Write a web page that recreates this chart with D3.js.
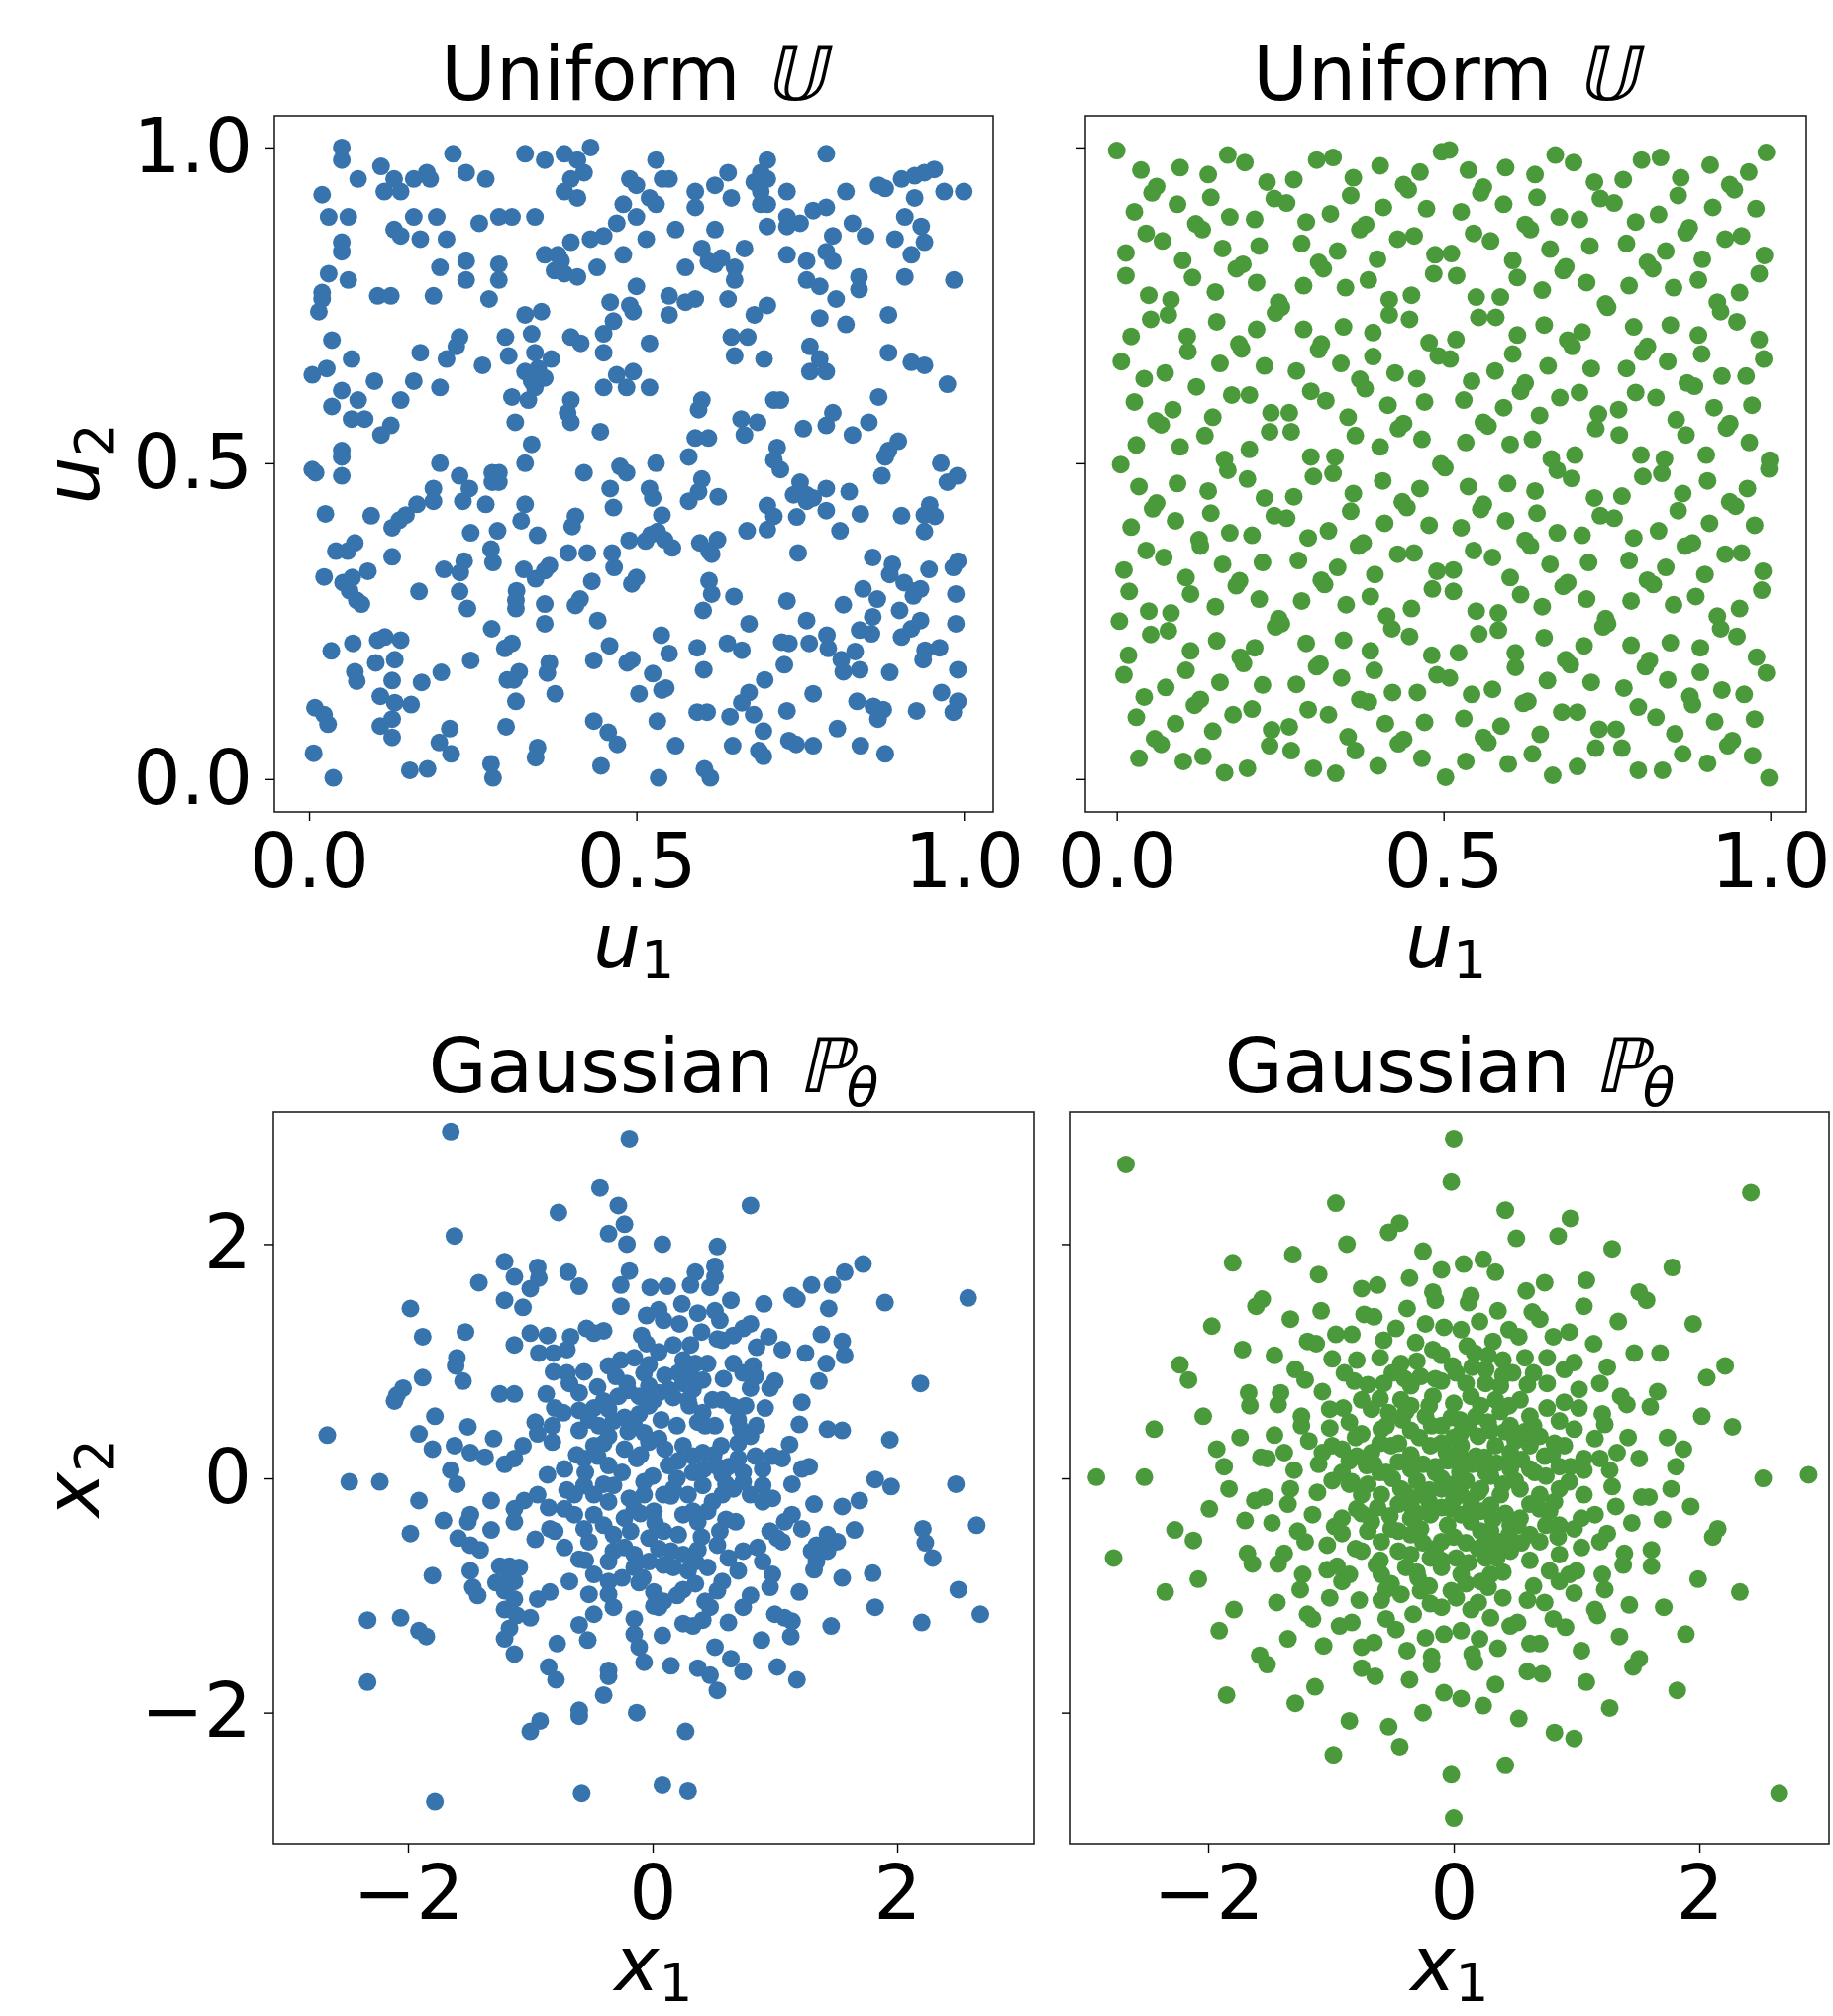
<!DOCTYPE html>
<html><head><meta charset="utf-8">
<script src="https://cdn.jsdelivr.net/npm/d3@7"></script>
<style>
body{margin:0;background:#fff}
svg{display:block}
text{font-family:'DejaVu Sans',sans-serif;fill:#000}
</style></head>
<body><svg id="chart" width="1851" height="2036"></svg>
<script>
// ---------------- data ----------------
const uniformTicks = [0, 0.5, 1.0];
const gaussianTicks = [-2, 0, 2];
const panelTitles = ["Uniform", "Uniform", "Gaussian", "Gaussian"];

// top-left: i.i.d. uniform samples (u1, u2)
const iidUniform = [
[.05,1.0],[.05,.98],[.22,.99],[.33,.99],[.36,.98],[.39,.99],[.41,.98],[.43,1.0],[.42,.96],[.40,.95],[.39,.93],[.41,.92],[.53,.98],[.79,.99],[.70,.98],[.075,.95],[.11,.97],[.13,.95],[.115,.93],[.14,.93],[.16,.95],[.18,.96],[.185,.95],[.24,.96],[.27,.95],[.02,.925],[.49,.95],[.50,.94],[.54,.95],[.55,.95],[.64,.96],[.62,.94],[.69,.96],[.68,.945],[.70,.95],[.69,.93],[.69,.91],[.70,.91],[.73,.93],[.82,.93],[.87,.94],[.88,.935],[.905,.95],[.925,.955],[.94,.96],[.955,.965],[.925,.92],[.97,.93],[1.0,.93],[.59,.93],[.59,.905],[.48,.91],[.52,.92],[.53,.91],[.645,.92],[.03,.89],[.06,.89],[.16,.89],[.195,.89],[.26,.88],[.29,.89],[.31,.89],[.345,.89],[.50,.89],[.47,.88],[.13,.87],[.14,.86],[.17,.855],[.21,.855],[.56,.87],[.62,.87],[.70,.875],[.73,.89],[.73,.875],[.75,.88],[.77,.90],[.79,.905],[.83,.88],[.80,.86],[.85,.86],[.91,.89],[.935,.875],[.895,.855],[.94,.85],[.92,.83],[.43,.855],[.45,.86],[.515,.855],[.05,.85],[.05,.835],[.03,.80],[.06,.79],[.36,.83],[.38,.83],[.40,.85],[.385,.82],[.375,.805],[.39,.80],[.41,.795],[.48,.83],[.44,.81],[.20,.81],[.24,.82],[.24,.79],[.29,.815],[.29,.79],[.60,.84],[.61,.82],[.63,.825],[.62,.815],[.65,.81],[.65,.79],[.665,.84],[.73,.83],[.76,.82],[.76,.79],[.78,.78],[.79,.835],[.80,.82],[.84,.795],[.84,.775],[.91,.795],[.985,.79],[.575,.81],[.02,.77],[.02,.76],[.015,.74],[.105,.765],[.125,.765],[.19,.765],[.275,.76],[.50,.78],[.49,.75],[.495,.74],[.46,.755],[.55,.765],[.575,.755],[.59,.76],[.55,.735],[.64,.76],[.70,.75],[.68,.735],[.805,.76],[.78,.73],[.82,.72],[.885,.735],[.33,.735],[.355,.74],[.34,.705],[.465,.725],[.45,.705],[.035,.695],[.23,.70],[.225,.685],[.21,.665],[.17,.675],[.065,.665],[.30,.70],[.40,.70],[.415,.69],[.45,.675],[.52,.69],[.345,.675],[.305,.67],[.37,.665],[.265,.655],[.645,.70],[.67,.70],[.65,.67],[.695,.665],[.765,.685],[.78,.665],[.765,.645],[.79,.645],[.885,.675],[.92,.66],[.94,.655],[.005,.64],[.027,.65],[.33,.645],[.35,.65],[.36,.635],[.34,.63],[.345,.62],[.495,.645],[.47,.64],[.10,.63],[.05,.615],[.16,.63],[.20,.62],[.45,.62],[.485,.62],[.52,.62],[.975,.625],[.035,.59],[.075,.60],[.14,.60],[.31,.605],[.335,.60],[.40,.60],[.395,.58],[.40,.565],[.60,.60],[.595,.585],[.71,.60],[.72,.60],[.87,.605],[.065,.57],[.085,.57],[.125,.56],[.11,.545],[.315,.565],[.445,.55],[.66,.57],[.685,.565],[.755,.555],[.80,.58],[.79,.56],[.83,.545],[.855,.565],[.59,.54],[.61,.54],[.665,.545],[.34,.53],[.05,.52],[.715,.525],[.90,.535],[.885,.52],
[.005,.49],[.01,.485],[.05,.51],[.05,.48],[.20,.50],[.33,.50],[.42,.485],[.475,.495],[.485,.485],[.53,.50],[.58,.51],[.71,.505],[.72,.49],[.88,.51],[.875,.48],[.965,.50],[.975,.47],[.99,.48],[.23,.48],[.28,.485],[.29,.485],[.28,.47],[.29,.47],[.60,.475],[.75,.47],[.74,.45],[.76,.45],[.76,.44],[.79,.46],[.77,.445],[.745,.415],[.79,.425],[.825,.455],[.245,.46],[.235,.44],[.19,.46],[.19,.44],[.165,.435],[.27,.435],[.33,.435],[.46,.46],[.465,.43],[.52,.46],[.525,.445],[.625,.447],[.58,.44],[.595,.455],[.70,.433],[.71,.416],[.70,.395],[.025,.42],[.095,.417],[.127,.398],[.138,.41],[.148,.418],[.842,.42],[.905,.417],[.948,.434],[.94,.418],[.956,.416],[.94,.392],[.407,.416],[.402,.40],[.324,.409],[.247,.39],[.288,.393],[.349,.386],[.539,.418],[.532,.392],[.522,.387],[.514,.377],[.489,.378],[.543,.379],[.555,.366],[.669,.393],[.811,.393],[.597,.374],[.611,.361],[.624,.379],[.615,.356],[.278,.364],[.281,.343],[.396,.358],[.425,.358],[.463,.358],[.466,.335],[.747,.358],[.861,.351],[.041,.361],[.059,.361],[.07,.374],[.127,.352],[.891,.34],[.887,.324],[.991,.345],[.984,.335],[.947,.332],[.206,.332],[.237,.345],[.231,.327],[.023,.32],[.052,.311],[.066,.319],[.09,.329],[.062,.298],[.073,.283],[.08,.277],[.328,.332],[.346,.317],[.36,.33],[.367,.338],[.432,.313],[.493,.309],[.50,.319],[.317,.298],[.316,.283],[.316,.27],[.168,.297],[.23,.297],[.242,.27],[.36,.277],[.407,.275],[.414,.285],[.611,.314],[.615,.293],[.649,.289],[.73,.282],[.816,.276],[.846,.301],[.868,.285],[.902,.267],[.909,.311],[.927,.298],[.923,.29],[.934,.301],[.988,.293],[.602,.267],[.279,.238],[.36,.246],[.441,.251],[.672,.246],[.76,.251],[.861,.257],[.841,.236],[.859,.23],[.905,.225],[.92,.238],[.934,.251],[.988,.246],[.034,.203],[.067,.215],[.105,.22],[.116,.225],[.14,.22],[.31,.215],[.299,.207],[.538,.228],[.459,.211],[.55,.199],[.593,.208],[.639,.215],[.661,.204],[.722,.217],[.733,.215],[.764,.215],[.791,.228],[.793,.207],[.834,.202],[.941,.204],[.963,.208],[.938,.189],[.102,.184],[.131,.189],[.07,.17],[.073,.155],[.127,.156],[.172,.153],[.202,.169],[.247,.188],[.321,.17],[.303,.157],[.313,.157],[.367,.184],[.364,.168],[.435,.188],[.486,.184],[.493,.189],[.525,.167],[.545,.144],[.539,.141],[.603,.173],[.726,.181],[.813,.189],[.816,.17],[.841,.173],[.887,.169],[.991,.173],[.696,.157],[.672,.137],[.661,.121],[.376,.135],[.504,.135],[.109,.131],[.131,.121],[.156,.118],[.316,.123],[.77,.135],[.966,.137],[.837,.123],[.862,.115],[.877,.11],[.869,.095],[.991,.123],[.984,.106],[.009,.113],[.023,.102],[.029,.087],[.109,.084],[.127,.095],[.127,.066],[.215,.08],[.199,.058],[.217,.04],[.301,.083],[.435,.092],[.457,.074],[.471,.055],[.532,.092],[.593,.106],[.608,.106],[.643,.099],[.679,.102],[.73,.108],[.694,.076],[.807,.08],[.928,.108],[.007,.041],[.037,.002],[.154,.014],[.181,.016],[.278,.024],[.281,.002],[.349,.05],[.346,.034],[.446,.021],[.56,.053],[.647,.053],[.687,.045],[.694,.036],[.733,.061],[.744,.055],[.77,.053],[.842,.053],[.88,.04],[.534,.002],[.604,.016],[.613,.002]
];

// top-right: quasi-random (low-discrepancy) uniform samples (u1, u2)
const qmcUniform = [
[0.0,.995],[.037,.964],[.097,.968],[.14,.957],[.17,.988],[.196,.976],[.23,.945],[.271,.949],[.306,.98],[.331,.984],[.362,.952],[.358,.924],[.403,.971],[.464,.961],[.497,.993],[.509,.996],[.538,.964],[.595,.968],[.64,.957],[.643,.921],[.671,.988],[.699,.976],[.731,.945],[.775,.949],[.803,.98],[.832,.984],[.863,.952],[.859,.924],[.908,.972],[.967,.961],[.994,.992],[.061,.938],[.054,.928],[.144,.921],[.241,.919],[.26,.912],[.439,.941],[.446,.933],[.561,.937],[.557,.928],[.74,.919],[.761,.912],[.938,.941],[.945,.933],[.027,.898],[.093,.91],[.173,.89],[.211,.886],[.29,.882],[.327,.895],[.408,.905],[.474,.903],[.527,.898],[.592,.91],[.677,.89],[.708,.886],[.794,.882],[.829,.894],[.912,.905],[.978,.903],[.121,.879],[.131,.87],[.372,.87],[.381,.878],[.625,.878],[.633,.87],[.876,.873],[.871,.865],[.045,.864],[.07,.852],[.43,.855],[.455,.86],[.546,.864],[.572,.852],[.931,.855],[.956,.86],[.014,.833],[.162,.84],[.218,.844],[.283,.848],[.338,.836],[.487,.83],[.512,.832],[.663,.839],[.724,.844],[.78,.848],[.84,.836],[.991,.829],[.101,.821],[.183,.808],[.193,.815],[.309,.818],[.316,.808],[.399,.823],[.606,.821],[.687,.811],[.683,.805],[.812,.818],[.82,.808],[.896,.823],[.014,.797],[.116,.794],[.214,.786],[.286,.781],[.35,.778],[.385,.79],[.485,.8],[.52,.797],[.613,.794],[.651,.774],[.719,.786],[.784,.781],[.852,.778],[.89,.79],[.983,.8],[.049,.766],[.083,.759],[.151,.771],[.248,.755],[.252,.747],[.243,.738],[.417,.759],[.451,.766],[.55,.763],[.587,.763],[.751,.747],[.748,.752],[.919,.755],[.924,.74],[.953,.77],[.052,.728],[.079,.735],[.153,.724],[.417,.735],[.448,.728],[.554,.731],[.58,.731],[.949,.724],[.022,.701],[.108,.701],[.109,.677],[.214,.712],[.286,.712],[.347,.716],[.392,.707],[.613,.703],[.654,.719],[.712,.708],[.69,.695],[.697,.685],[.791,.716],[.847,.719],[.89,.703],[.983,.696],[.187,.689],[.191,.681],[.313,.689],[.309,.68],[.478,.691],[.519,.696],[.492,.67],[.51,.665],[.812,.685],[.805,.676],[.007,.661],[.158,.658],[.226,.654],[.275,.646],[.343,.658],[.392,.669],[.606,.673],[.66,.654],[.726,.65],[.78,.65],[.843,.661],[.895,.673],[.99,.665],[.042,.634],[.074,.643],[.122,.621],[.372,.633],[.38,.618],[.426,.643],[.459,.634],[.543,.63],[.579,.646],[.625,.627],[.618,.614],[.873,.627],[.884,.622],[.926,.638],[.963,.638],[.027,.597],[.176,.608],[.203,.608],[.297,.614],[.32,.599],[.415,.592],[.471,.597],[.531,.6],[.678,.604],[.708,.612],[.794,.612],[.825,.604],[.086,.585],[.06,.567],[.068,.561],[.147,.573],[.236,.58],[.264,.58],[.354,.573],[.439,.563],[.431,.555],[.561,.565],[.568,.559],[.592,.588],[.647,.576],[.737,.578],[.733,.555],[.768,.585],[.769,.545],[.856,.569],[.871,.545],[.914,.588],[.972,.592],[.938,.563],[.933,.556],[.234,.55],[.267,.55],[.03,.529],[.097,.526],[.135,.544],[.203,.522],[.365,.544],[.403,.526],[.467,.538],[.534,.533],[.602,.53],[.636,.538],[.968,.533],
[.006,.498],[.165,.506],[.17,.489],[.297,.51],[.334,.51],[.301,.479],[.331,.484],[.496,.499],[.502,.493],[.665,.507],[.674,.489],[.696,.476],[.701,.513],[.802,.513],[.838,.507],[.834,.484],[.805,.479],[.902,.513],[.999,.505],[.998,.491],[.034,.463],[.093,.468],[.14,.456],[.2,.475],[.226,.445],[.271,.447],[.362,.452],[.358,.424],[.407,.472],[.464,.46],[.538,.463],[.598,.468],[.64,.456],[.643,.421],[.731,.445],[.773,.448],[.866,.452],[.859,.425],[.904,.472],[.965,.46],[.061,.437],[.055,.428],[.144,.421],[.241,.417],[.26,.413],[.437,.439],[.444,.43],[.561,.435],[.557,.427],[.74,.417],[.761,.413],[.938,.439],[.947,.432],[.022,.399],[.09,.409],[.173,.39],[.207,.386],[.293,.382],[.324,.393],[.41,.405],[.478,.402],[.527,.398],[.595,.409],[.674,.39],[.712,.386],[.791,.382],[.829,.393],[.907,.405],[.976,.402],[.126,.379],[.128,.369],[.37,.369],[.377,.374],[.625,.378],[.633,.369],[.87,.369],[.881,.374],[.045,.362],[.072,.351],[.43,.356],[.455,.358],[.546,.362],[.575,.351],[.931,.356],[.956,.358],[.011,.331],[.162,.34],[.223,.343],[.278,.346],[.338,.335],[.395,.324],[.49,.329],[.515,.331],[.663,.34],[.722,.343],[.784,.346],[.84,.335],[.9,.324],[.989,.329],[.106,.319],[.183,.306],[.188,.314],[.313,.315],[.318,.308],[.602,.319],[.69,.311],[.683,.305],[.812,.315],[.821,.308],[.019,.297],[.113,.293],[.218,.285],[.283,.282],[.351,.276],[.388,.289],[.483,.301],[.515,.297],[.618,.292],[.651,.273],[.719,.285],[.787,.282],[.852,.276],[.886,.289],[.987,.299],[.049,.266],[.083,.263],[.151,.273],[.248,.254],[.252,.246],[.243,.241],[.413,.258],[.421,.238],[.451,.27],[.55,.266],[.584,.263],[.748,.254],[.751,.246],[.744,.241],[.919,.258],[.924,.238],[.953,.27],[.004,.25],[.052,.229],[.079,.235],[.153,.219],[.448,.226],[.554,.23],[.584,.236],[.949,.226],[.018,.196],[.011,.165],[.113,.203],[.106,.172],[.211,.208],[.189,.193],[.194,.183],[.29,.215],[.347,.22],[.388,.203],[.394,.172],[.482,.196],[.523,.2],[.61,.2],[.61,.177],[.654,.224],[.687,.189],[.694,.181],[.715,.211],[.787,.212],[.815,.188],[.809,.178],[.847,.216],[.893,.208],[.893,.169],[.979,.193],[.994,.168],[.306,.178],[.311,.182],[.344,.16],[.49,.165],[.509,.16],[.659,.156],[.726,.153],[.843,.157],[.042,.13],[.075,.145],[.158,.153],[.223,.149],[.275,.15],[.372,.126],[.385,.122],[.422,.137],[.46,.137],[.543,.134],[.575,.142],[.622,.12],[.629,.123],[.776,.144],[.877,.131],[.881,.118],[.926,.141],[.96,.134],[.03,.098],[.09,.088],[.119,.117],[.128,.126],[.178,.102],[.207,.111],[.293,.11],[.324,.102],[.411,.088],[.471,.09],[.531,.096],[.588,.084],[.681,.106],[.705,.106],[.798,.114],[.825,.098],[.915,.091],[.976,.095],[.058,.064],[.068,.055],[.147,.076],[.237,.078],[.234,.053],[.264,.083],[.267,.045],[.354,.067],[.365,.045],[.439,.063],[.431,.056],[.561,.066],[.568,.058],[.648,.071],[.738,.079],[.764,.079],[.733,.049],[.773,.049],[.854,.072],[.866,.04],[.942,.061],[.935,.053],[.973,.037],[.034,.033],[.102,.028],[.132,.036],[.165,.01],[.2,.017],[.301,.017],[.335,.009],[.4,.021],[.467,.033],[.503,.003],[.534,.028],[.599,.024],[.636,.04],[.667,.006],[.705,.02],[.798,.014],[.835,.014],[.904,.025],[.998,.002]
];

// bottom-left: i.i.d. Gaussian samples (x1, x2)
const iidGaussian = [
[-1.65,2.96],[-0.19,2.90],[-0.43,2.48],[-0.28,2.33],[-0.77,2.27],[0.80,2.33],[-1.62,2.07],[-0.23,2.17],[-0.36,2.09],[-0.21,2.00],[0.08,2.00],[0.53,1.98],[1.72,1.83],[-1.21,1.85],[-1.13,1.72],[-0.94,1.80],[-0.93,1.71],[-1.00,1.62],[-1.42,1.67],[-0.69,1.76],[-0.60,1.64],[-0.19,1.77],[-0.26,1.65],[-0.02,1.63],[0.12,1.64],[0.35,1.76],[0.31,1.65],[0.51,1.81],[0.51,1.72],[0.47,1.63],[1.57,1.76],[1.47,1.65],[1.30,1.65],[1.14,1.56],[1.18,1.53],[-1.98,1.45],[-1.21,1.52],[-1.06,1.46],[-0.26,1.47],[0.24,1.49],[0.64,1.52],[0.91,1.49],[1.44,1.45],[1.90,1.50],[2.58,1.54],[-1.88,1.21],[-1.53,1.25],[-0.05,1.39],[0.05,1.44],[0.09,1.35],[0.22,1.32],[0.37,1.41],[0.51,1.43],[0.55,1.35],[0.80,1.32],[0.74,1.28],[-1.00,1.24],[-0.86,1.22],[-0.67,1.21],[-0.54,1.28],[-0.40,1.26],[-0.48,1.24],[-1.13,1.14],[-0.93,1.07],[-0.81,1.07],[-0.09,1.22],[0.17,1.14],[0.31,1.14],[0.05,1.08],[0.57,1.18],[0.66,1.22],[0.53,1.19],[0.95,1.21],[0.85,1.12],[1.06,1.10],[1.25,1.07],[1.38,1.23],[1.55,1.17],[1.57,1.05],[1.42,0.98],[1.36,0.83],[2.19,0.81],[-1.60,1.03],[-1.61,0.96],[-1.55,0.83],[-1.88,0.86],[-2.04,0.77],[-2.09,0.71],[-2.11,0.66],[-1.25,0.72],[-1.13,0.72],[-0.87,0.72],[-0.81,0.91],[-0.70,0.90],[-0.56,0.91],[-0.68,0.81],[-0.60,0.73],[-0.36,0.96],[-0.26,1.01],[-0.15,1.03],[-0.03,0.97],[-0.30,0.87],[-0.21,0.81],[-0.07,0.90],[0.25,1.01],[0.35,0.98],[0.45,0.98],[0.21,0.90],[0.31,0.88],[0.41,0.84],[0.66,0.98],[0.74,0.90],[0.82,0.96],[0.84,0.87],[1.00,0.83],[0.96,0.77],[1.22,0.65],[0.92,0.60],[0.76,0.62],[0.57,0.67],[-0.03,0.79],[0.05,0.73],[0.13,0.76],[0.25,0.81],[0.33,0.76],[-0.11,0.70],[0.01,0.67],[0.17,0.69],[0.29,0.67],[0.49,0.67],[0.80,0.77],[-1.78,0.53],[-1.51,0.44],[-1.91,0.38],[-2.66,0.37],[-1.80,0.25],[-1.62,0.28],[-1.49,0.22],[-1.37,0.18],[-1.30,0.34],[-1.21,0.12],[-1.13,0.17],[-1.06,0.28],[-0.96,0.48],[-0.94,0.38],[-0.82,0.31],[-0.82,0.45],[-0.73,0.56],[-0.60,0.41],[-0.52,0.50],[-0.48,0.60],[-0.40,0.66],[-0.36,0.59],[-0.44,0.45],[-0.36,0.36],[-0.48,0.28],[-0.45,0.19],[-0.32,0.49],[-0.23,0.52],[-0.15,0.45],[-0.11,0.55],[-0.03,0.62],[0.07,0.50],[-0.07,0.39],[0.05,0.34],[-0.03,0.31],[-0.23,0.25],[-0.13,0.17],[0.25,0.28],[0.33,0.19],[0.41,0.22],[0.21,0.15],[0.41,0.56],[0.37,0.48],[0.43,0.45],[0.51,0.45],[0.70,0.50],[0.72,0.42],[0.80,0.36],[0.56,0.28],[0.84,0.19],[0.70,0.17],[0.98,0.19],[1.12,0.29],[1.06,0.17],[1.20,0.46],[1.43,0.42],[1.55,0.41],[1.94,0.33],[1.22,0.08],[1.28,0.10],[0.53,0.10],[0.57,0.03],[-1.65,0.07],[-0.86,0.03],[-0.56,0.17],[-0.36,0.11],[0.13,0.11],[0.33,0.05],[0.74,0.05],[0.90,0.08],[-0.72,0.08],
[-2.48,-0.03],[-2.23,-0.03],[-1.60,-0.05],[1.82,-0.01],[1.95,-0.07],[2.48,-0.05],[1.14,-0.05],[-1.91,-0.19],[-1.32,-0.19],[-1.98,-0.47],[-1.71,-0.36],[-1.49,-0.31],[-1.51,-0.37],[-1.59,-0.51],[-1.49,-0.57],[-1.41,-0.61],[-1.32,-0.44],[-1.13,-0.26],[-1.13,-0.37],[-1.05,-0.19],[-0.94,-0.14],[-0.96,-0.52],[-0.80,-0.45],[-0.72,-0.59],[-0.64,-0.14],[-0.64,-0.31],[-0.56,-0.43],[-0.48,-0.31],[-0.48,-0.14],[-0.36,-0.20],[-0.40,-0.40],[-0.32,-0.48],[-0.23,-0.34],[-0.15,-0.26],[-0.07,-0.14],[0.01,-0.28],[-0.03,-0.51],[0.09,-0.14],[0.17,-0.09],[0.29,-0.14],[0.25,-0.31],[0.33,-0.28],[0.57,-0.14],[0.66,-0.09],[0.80,-0.14],[0.90,-0.20],[0.98,-0.17],[0.68,-0.37],[1.08,-0.37],[1.22,-0.43],[1.32,-0.22],[1.55,-0.24],[1.69,-0.19],[1.65,-0.44],[1.51,-0.54],[1.43,-0.62],[1.30,-0.62],[1.34,-0.71],[1.32,-0.78],[1.55,-0.85],[1.80,-0.81],[1.82,-1.10],[1.46,-1.26],[2.21,-0.43],[2.23,-0.55],[2.29,-0.68],[2.65,-0.40],[2.50,-0.95],[2.68,-1.16],[2.20,-1.23],[0.37,-0.61],[0.35,-0.71],[0.45,-0.76],[0.25,-0.65],[0.29,-0.79],[0.25,-0.95],[0.53,-0.57],[0.62,-0.68],[0.70,-0.79],[0.74,-0.62],[0.86,-0.59],[0.90,-0.71],[0.98,-0.82],[0.96,-0.93],[1.06,-0.54],[1.20,-0.97],[0.96,-0.45],[1.02,-0.51],[0.17,-0.76],[0.09,-0.74],[-0.15,-0.76],[-0.11,-0.89],[0.01,-0.97],[0.05,-1.10],[0.09,-1.05],[0.01,-1.09],[-0.15,-0.65],[-0.23,-0.59],[-0.36,-0.71],[-0.36,-0.88],[-0.32,-1.10],[-0.36,-0.99],[-0.48,-0.82],[-0.52,-0.99],[-0.48,-1.16],[-0.68,-0.88],[-0.84,-0.97],[-0.94,-1.03],[-0.60,-0.69],[-1.25,-0.75],[-1.17,-0.75],[-1.09,-0.76],[-1.17,-0.82],[-1.13,-0.88],[-1.21,-0.96],[-1.13,-1.03],[-1.28,-0.89],[-1.49,-0.79],[-1.47,-0.93],[-1.43,-1.00],[-1.80,-0.83],[-1.21,-1.12],[-1.11,-1.17],[-1.00,-1.19],[-1.17,-1.28],[-1.21,-1.37],[-1.13,-1.50],[-2.33,-1.21],[-2.06,-1.19],[-1.91,-1.30],[-1.85,-1.35],[-2.33,-1.74],[-0.78,-1.41],[-0.53,-1.38],[-0.15,-1.33],[-0.11,-1.44],[-0.07,-1.57],[0.08,-1.34],[0.15,-1.60],[0.37,-1.62],[0.47,-1.68],[0.53,-1.81],[0.51,-1.44],[0.64,-1.54],[0.74,-1.65],[0.89,-1.38],[1.02,-1.61],[1.18,-1.72],[1.14,-1.22],[1.13,-1.35],[1.00,-1.16],[1.08,-1.19],[0.74,-1.10],[0.62,-1.23],[0.25,-1.24],[0.33,-1.26],[0.41,-1.21],[0.47,-1.10],[0.43,-1.05],[0.53,-0.96],[0.57,-0.88],[-0.85,-1.61],[-0.79,-1.72],[-0.36,-1.64],[-0.36,-1.69],[-0.40,-1.85],[-0.60,-1.98],[-0.60,-2.03],[-0.13,-2.00],[-0.92,-2.07],[-1.00,-2.16],[0.27,-2.16],[0.08,-2.62],[0.29,-2.67],[-0.58,-2.69],[-1.78,-2.76],[-0.84,-0.43],[-0.72,-0.26],[-0.56,-0.06],[-0.32,-0.06],[-0.19,-0.17],[-0.07,-0.03],[0.41,-0.06],[0.49,-0.20],[0.74,-0.03],[0.90,-0.06],[-0.52,-0.54],[-0.32,-0.62],[-0.03,-0.71],[0.09,-0.45],[0.21,-0.48],[0.37,-0.37],[0.45,-0.28],[1.34,-0.57],[1.43,-0.48],[1.14,-0.31],
[-0.10,0.20],[0.10,0.25],[-0.25,0.05],[0.00,0.02],[0.20,0.00],[-0.40,-0.05],[0.50,0.20],[0.62,0.10],[-0.62,0.20],[-0.20,0.75],[0.10,0.88],[-0.45,0.78],[0.58,0.85],[-0.80,0.60],[0.65,0.62],[-0.18,-0.45],[0.02,-0.38],[0.15,-0.62],[-0.08,-0.85],[0.35,-0.90],[-0.55,-0.70],[0.60,-0.35],[-0.70,-0.10],[0.70,0.30],[0.20,0.45],[-0.20,0.40],[0.30,0.62],[-0.60,0.58],[0.05,-0.60],[-0.25,-0.85],[0.40,-0.50],[-0.40,0.30],[0.15,-0.15],[-0.10,-0.30],[0.55,-0.45],[-0.85,-0.25],[0.85,0.45],[-0.05,1.15],[0.40,1.25],[-0.70,1.10],[0.20,-1.00],[-0.60,-1.25],[0.80,-1.00],[-0.15,-1.20],[0.60,-0.05],[-0.28,0.70],[0.42,0.08],[-0.55,0.05]
];

// bottom-right: quasi-random Gaussian samples (x1, x2)
const qmcGaussian = [
[-2.67,2.68],[0,2.90],[-0.02,2.53],[2.42,2.44],[-0.96,2.35],[0.42,2.29],[0.95,2.22],[-0.53,2.10],[-0.44,2.18],[-0.87,2.00],[0.51,2.05],[0.85,2.07],[1.29,1.96],[-0.25,1.94],[-1.31,1.91],[-1.80,1.84],[1.78,1.80],[-1.10,1.74],[-0.10,1.78],[0.08,1.83],[0.24,1.87],[0.34,1.76],[-0.36,1.71],[-0.75,1.62],[-0.62,1.65],[-0.17,1.59],[-0.15,1.52],[0.14,1.56],[0.12,1.50],[0.59,1.60],[0.74,1.67],[1.08,1.69],[1.51,1.59],[1.57,1.52],[-1.56,1.53],[-1.61,1.47],[-1.08,1.43],[-0.38,1.45],[0.36,1.43],[1.06,1.47],[-0.73,1.40],[-0.65,1.38],[0.64,1.42],[0.70,1.36],[-1.33,1.36],[1.34,1.34],[1.95,1.32],[-1.97,1.30],[-0.96,1.23],[-0.83,1.23],[-0.47,1.28],[-0.23,1.32],[-0.08,1.29],[0.06,1.27],[0.21,1.34],[0.45,1.27],[0.53,1.21],[0.81,1.21],[0.94,1.25],[-0.57,1.18],[-0.31,1.16],[0.32,1.17],[1.14,1.15],[-1.19,1.17],[-1.12,1.15],[-1.72,1.10],[-1.46,1.05],[1.47,1.07],[1.68,1.07],[-0.99,1.02],[-0.79,1.01],[-0.60,1.03],[-0.43,0.98],[-0.17,1.10],[-0.10,1.05],[0.11,1.13],[0.17,1.07],[0.40,1.01],[0.58,1.03],[0.76,1.03],[0.98,0.99],[0.90,0.93],[1.25,0.95],[-2.23,0.97],[-2.16,0.84],[-1.29,0.93],[-1.21,0.84],[-0.89,0.90],[-0.81,0.83],[-0.01,0.96],[0.02,0.90],[0.26,0.93],[0.48,0.90],[-0.50,0.90],[-0.57,0.81],[-0.35,0.79],[-0.27,0.87],[-0.10,0.83],[0.10,0.81],[0.26,0.81],[0.38,0.79],[0.60,0.80],[0.76,0.81],[1.02,0.76],[1.19,0.81],[1.66,0.74],[2.06,0.86],[2.21,0.96],[-1.67,0.73],[-1.66,0.62],[-1.41,0.73],[-1.43,0.63],[-1.07,0.74],[1.36,0.70],[1.41,0.63],[1.60,0.61],[1.02,0.60],[-1.01,0.59],[-0.75,0.67],[-0.67,0.59],[-0.43,0.67],[-0.17,0.70],[0.14,0.70],[0.34,0.67],[0.54,0.67],[0.76,0.60],[-2.04,0.53],[-1.24,0.53],[-1.24,0.45],[-0.53,0.56],[-0.39,0.57],[-0.23,0.53],[-0.02,0.52],[0.18,0.53],[0.38,0.57],[0.62,0.53],[0.86,0.49],[1.21,0.55],[1.23,0.46],[2.02,0.53],[2.27,0.44],[-2.44,0.42],[-1.74,0.35],[-1.46,0.37],[-1.01,0.43],[-0.85,0.48],[-0.75,0.38],[-0.59,0.42],[-0.35,0.41],[-0.10,0.45],[0.06,0.39],[0.30,0.41],[0.46,0.45],[0.70,0.36],[0.98,0.42],[1.15,0.34],[-1.18,0.32],[1.42,0.35],[1.74,0.35],[-1.93,0.25],[-1.57,0.18],[-1.52,0.17],[-1.38,0.22],[-1.07,0.22],[-0.99,0.28],[-0.91,0.25],[-0.79,0.19],[-0.67,0.22],[-0.51,0.28],[-0.35,0.19],[-0.19,0.28],[-0.06,0.22],[0.06,0.28],[0.18,0.19],[0.34,0.28],[0.46,0.22],[0.62,0.28],[0.74,0.19],[0.90,0.28],[1.06,0.17],[1.19,0.17],[1.33,0.22],[1.51,0.17],[1.87,0.25],[1.81,0.10],[-1.87,0.10],[-1.30,0.07],[-1.10,0.12],[-0.91,0.05],[-0.71,0.11],[-0.55,0.05],[-0.35,0.08],[-0.15,0.05],[0.06,0.11],[0.26,0.05],[0.46,0.08],[0.66,0.05],[0.86,0.10],[1.06,0.07],[1.27,0.07],[-2.91,0.01],[-2.52,0.01],[2.52,0.00],[2.89,0.03],
[-1.83,-0.09],[-1.62,-0.19],[-1.54,-0.16],[-1.33,-0.09],[-1.35,-0.22],[-1.11,-0.12],[-1.99,-0.26],[-1.70,-0.36],[-1.48,-0.38],[-2.27,-0.44],[-2.12,-0.53],[-2.77,-0.68],[-2.08,-0.86],[-2.35,-0.97],[-1.68,-0.64],[-1.64,-0.73],[-1.38,-0.64],[-1.43,-0.73],[-1.27,-0.45],[-1.21,-0.54],[-1.15,-0.31],[-1.03,-0.57],[-1.03,-0.78],[-1.23,-0.82],[-1.25,-0.95],[-0.97,-0.41],[-0.91,-0.47],[-0.91,-0.88],[-0.85,-0.82],[-1.01,-1.02],[-0.77,-1.04],[-0.75,-0.62],[-0.63,-0.74],[-0.59,-0.82],[-0.59,-1.04],[-0.51,-0.90],[-0.43,-0.99],[-0.39,-0.76],[-0.29,-0.85],[-0.27,-0.96],[-0.19,-1.07],[-0.10,-1.10],[-0.33,-1.16],[-0.02,-0.96],[0.02,-1.02],[0.06,-0.82],[0.14,-1.12],[0.20,-1.06],[0.30,-0.82],[0.28,-0.93],[0.40,-1.02],[0.30,-1.19],[0.46,-1.26],[0.52,-1.23],[0.60,-1.04],[0.74,-1.06],[0.78,-0.79],[0.86,-0.88],[0.94,-0.82],[0.98,-0.98],[1.00,-0.79],[0.86,-0.65],[1.04,-0.59],[0.81,-1.20],[0.91,-1.27],[1.15,-1.12],[1.17,-1.17],[1.21,-0.82],[1.23,-0.95],[1.19,-0.54],[1.25,-0.47],[1.39,-0.64],[1.38,-0.74],[1.61,-0.61],[1.61,-0.75],[1.43,-1.08],[1.71,-1.10],[1.99,-0.86],[2.33,-0.97],[1.45,-0.38],[1.32,-0.24],[1.29,-0.07],[1.06,-0.14],[1.53,-0.16],[1.59,-0.16],[1.77,-0.09],[1.70,-0.35],[1.93,-0.24],[2.11,-0.50],[2.15,-0.43],[1.04,-0.34],[1.15,-0.31],[0.86,-0.40],[0.98,-0.43],[0.70,-0.26],[0.82,-0.20],[0.62,-0.48],[0.70,-0.54],[0.46,-0.40],[0.54,-0.34],[0.38,-0.54],[0.46,-0.62],[0.26,-0.68],[0.34,-0.62],[0.22,-0.45],[0.14,-0.37],[0.06,-0.31],[0.02,-0.68],[-0.10,-0.54],[-0.19,-0.68],[-0.27,-0.43],[-0.35,-0.34],[-0.51,-0.43],[-0.59,-0.54],[-0.67,-0.37],[-0.79,-0.26],[-0.91,-0.34],[-0.75,-0.14],[-0.59,-0.14],[-0.43,-0.09],[-0.27,-0.14],[-0.10,-0.09],[0.06,-0.14],[0.22,-0.09],[0.38,-0.14],[0.54,-0.09],[0.70,-0.14],[0.86,-0.09],[0.94,-0.03],[-0.83,-0.03],[-0.99,-0.02],[-0.35,-0.23],[-0.19,-0.31],[-0.02,-0.26],[0.30,-0.23],[0.14,-0.20],[-0.10,-0.76],[-0.93,-1.26],[-0.83,-1.23],[-0.55,-1.20],[-0.47,-1.29],[-0.23,-1.36],[-0.08,-1.33],[0.06,-1.30],[0.21,-1.37],[0.36,-1.45],[0.62,-1.41],[0.70,-1.41],[1.04,-1.47],[1.35,-1.35],[1.89,-1.33],[-0.75,-1.44],[-0.65,-1.40],[-0.38,-1.47],[-0.18,-1.52],[-0.18,-1.59],[0.15,-1.50],[0.17,-1.57],[-1.91,-1.30],[-1.79,-1.12],[-1.44,-1.06],[-1.35,-1.37],[-1.19,-1.16],[-1.15,-1.20],[-1.06,-1.43],[-1.58,-1.51],[-1.52,-1.59],[-0.75,-1.62],[-0.64,-1.69],[-0.36,-1.72],[0.60,-1.65],[0.72,-1.67],[1.08,-1.74],[1.51,-1.54],[1.46,-1.61],[1.82,-1.81],[0.34,-1.76],[-0.08,-1.83],[0.06,-1.88],[0.24,-1.94],[-1.85,-1.85],[-1.13,-1.78],[-1.29,-1.92],[-0.25,-2.00],[0.53,-2.05],[1.27,-1.96],[-0.85,-2.07],[-0.53,-2.12],[0.82,-2.17],[0.98,-2.22],[-0.44,-2.29],[-0.98,-2.36],[0.42,-2.45],[-0.02,-2.53],[2.65,-2.69],[0,-2.90],
[-0.20,0.62],[0.00,0.64],[0.22,0.62],[-0.42,0.50],[0.42,0.40],[-0.60,0.30],[0.58,0.40],[-0.28,0.35],[0.20,0.36],[-0.45,0.30],[0.50,0.32],[-0.10,0.30],[0.12,0.44],[-0.25,0.12],[-0.05,0.15],[0.15,0.12],[0.35,0.13],[0.55,0.16],[-0.45,0.14],[-0.65,0.12],[0.80,0.20],[-0.85,0.15],[-0.30,-0.02],[-0.10,0.00],[0.10,-0.02],[0.30,0.02],[0.50,-0.02],[-0.50,0.00],[-0.70,-0.05],[0.75,0.02],[-0.20,-0.20],[0.00,-0.18],[0.22,-0.28],[0.42,-0.30],[-0.45,-0.22],[-0.62,-0.25],[0.62,-0.22],[-0.05,-0.40],[0.10,-0.55],[-0.35,-0.48],[0.30,-0.45],[-0.45,-0.62],[0.55,-0.55],[-0.15,-0.60],[0.20,-0.60],[-0.70,-0.45],[0.75,-0.40],[-0.30,-0.80],[0.40,-0.80],[-0.80,-0.60],[0.85,-0.50],[0.10,-0.90],[-0.55,-0.95],[0.65,-0.92],[-0.90,0.60],[0.90,0.65],[-0.30,1.00],[0.28,1.05],[-0.70,0.80],[0.65,0.90],[-0.95,-0.75],[0.05,0.05],
[-0.18,0.45],[0.05,0.50],[0.28,0.48],[-0.35,0.62],[0.45,0.62],[-0.55,0.45],[0.65,0.45],[-0.15,0.10],[0.05,0.20],[0.25,0.18],[-0.35,0.20],[0.45,0.15],[-0.60,0.05],[0.62,0.08],[-0.20,-0.10],[0.00,-0.05],[0.20,-0.12],[0.40,-0.05],[-0.40,-0.12],[-0.10,-0.25],[0.10,-0.30],[0.32,-0.35],[-0.30,-0.30],[-0.52,-0.32],[0.52,-0.40],[-0.25,-0.55],[0.00,-0.50],[0.25,-0.55],[-0.45,-0.45],[0.45,-0.48],[-0.10,-0.70],[0.12,-0.72],[-0.35,-0.65],[0.35,-0.68],[-0.60,-0.70],[0.62,-0.70],[-0.20,-0.92],[0.22,-0.88],[-0.80,0.35],[0.82,0.30],[-0.40,0.85],[0.40,0.88],[-0.15,0.85],[0.15,0.95],[-0.75,-0.30],[0.78,-0.28],[-0.85,-0.05],[0.95,0.10],[0.00,0.35],[-0.60,0.68]
];

// ---------------- drawing ----------------
const BLUE = "#3774ad", GREEN = "#4a9a3b";
const FS = 76;
const R = 9;
const svg = d3.select("#chart");
const defs = svg.append("defs");

const panels = [
  {id:"tl", data:iidUniform, color:BLUE, box:[277,117,1003,820], xd:[-0.053,1.045], yd:[-0.052,1.050], ticks:uniformTicks, fmt:d3.format(".1f"), ylab:true, sym:"\u{1D54C}", sub:null, xl:"u", yl:"u"},
  {id:"tr", data:qmcUniform, color:GREEN, box:[1096,117,1824,820], xd:[-0.048,1.055], yd:[-0.052,1.050], ticks:uniformTicks, fmt:d3.format(".1f"), ylab:false, sym:"\u{1D54C}", sub:null, xl:"u"},
  {id:"bl", data:iidGaussian, color:BLUE, box:[276,1123,1044,1862], xd:[-3.101,3.117], yd:[-3.119,3.128], ticks:gaussianTicks, fmt:d3.format("d"), ylab:true, sym:"\u2119", sub:"\u03B8", xl:"x", yl:"x"},
  {id:"br", data:qmcGaussian, color:GREEN, box:[1081,1123,1847,1862], xd:[-3.121,3.056], yd:[-3.119,3.128], ticks:gaussianTicks, fmt:d3.format("d"), ylab:false, sym:"\u2119", sub:"\u03B8", xl:"x"}
];

panels.forEach((p, i) => {
  const [x0,y0,x1,y1] = p.box;
  const x = d3.scaleLinear().domain(p.xd).range([x0,x1]);
  const y = d3.scaleLinear().domain(p.yd).range([y1,y0]);
  const g = svg.append("g");

  defs.append("clipPath").attr("id","clip-"+p.id)
    .append("rect").attr("x",x0).attr("y",y0).attr("width",x1-x0).attr("height",y1-y0);

  g.append("g").attr("clip-path","url(#clip-"+p.id+")")
    .selectAll("circle").data(p.data).join("circle")
    .attr("cx",d=>x(d[0])).attr("cy",d=>y(d[1])).attr("r",R)
    .attr("fill",p.color);

  g.append("rect").attr("x",x0).attr("y",y0).attr("width",x1-x0).attr("height",y1-y0)
    .attr("fill","none").attr("stroke","#222").attr("stroke-width",1.6);

  const ax = g.append("g").attr("transform",`translate(0,${y1})`)
    .call(d3.axisBottom(x).tickValues(p.ticks).tickSize(9).tickPadding(13).tickFormat(p.fmt));
  const ay = g.append("g").attr("transform",`translate(${x0},0)`)
    .call(d3.axisLeft(y).tickValues(p.ticks).tickSize(9).tickPadding(13).tickFormat(p.ylab ? p.fmt : ""));
  [ax,ay].forEach(a => {
    a.select(".domain").remove();
    a.selectAll(".tick line").attr("stroke","#000").attr("stroke-width",1.4);
    a.selectAll(".tick text").attr("font-size",FS).attr("font-family","'DejaVu Sans',sans-serif").attr("fill","#000");
  });

  const cx = (x0+x1)/2;
  // title: word + space + slanted blackboard symbol (+ subscript)
  const tY = i < 2 ? 101 : 1103;
  const tg = g.append("g");
  const t1 = tg.append("text").attr("x",0).attr("y",0).attr("font-size",FS).text(panelTitles[i]);
  const w1 = t1.node().getComputedTextLength() + FS*0.318;
  const t2 = tg.append("text").attr("transform",`translate(${w1},0) skewX(-13)`).attr("font-size",FS).text(p.sym);
  const w2 = t2.node().getComputedTextLength();
  let w3 = 0;
  if (p.sub) {
    const t3 = tg.append("text").attr("x",w1+w2-4).attr("y",14).attr("font-size",FS*0.7).attr("font-style","italic").text(p.sub);
    w3 = t3.node().getComputedTextLength() - 4;
  }
  tg.attr("transform",`translate(${cx-(w1+w2+w3)/2},${tY})`);

  // x label
  const xlY = i < 2 ? 977 : 2010;
  const xl = g.append("text").attr("x",cx).attr("y",xlY).attr("text-anchor","middle").attr("font-size",FS);
  xl.append("tspan").attr("font-style","italic").text(p.xl);
  xl.append("tspan").attr("font-size",FS*0.7).attr("dy",11).text("1");

  // y label
  if (p.yl) {
    const cy = (y0+y1)/2;
    const yl = g.append("text").attr("transform",`translate(100,${cy}) rotate(-90)`).attr("text-anchor","middle").attr("font-size",FS);
    yl.append("tspan").attr("font-style","italic").text(p.yl);
    yl.append("tspan").attr("font-size",FS*0.7).attr("dy",14).text("2");
  }
});
</script>
</body></html>
